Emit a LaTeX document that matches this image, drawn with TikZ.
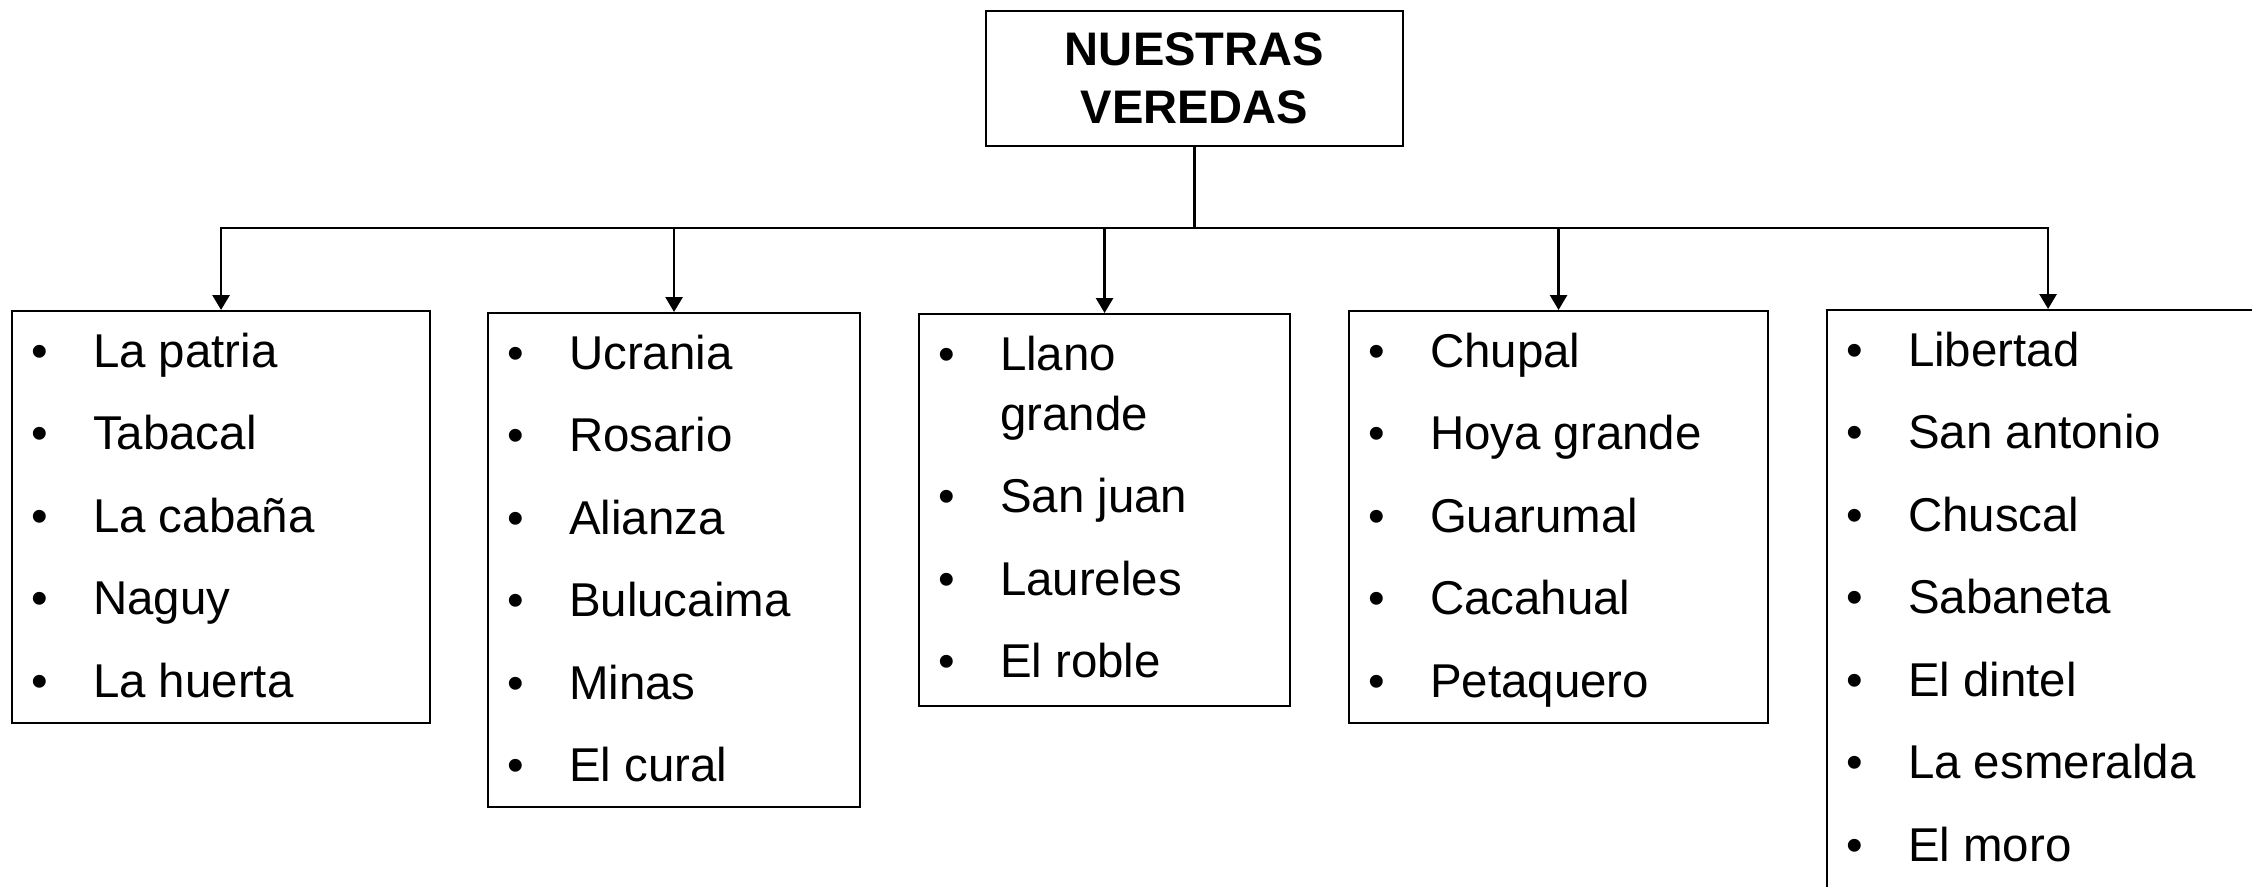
\documentclass[tikz,border=0pt]{standalone}
\usepackage{fontspec}
\setmainfont{Liberation Sans}
\usetikzlibrary{arrows.meta, positioning}

\newcommand{\vitem}[1]{\rule{0pt}{0.4cm}\hspace*{0.19cm}\makebox[0.62cm][l]{•}#1\par\vspace{0.225cm}}
\newcommand{\vlist}[3]{\parbox[c][#2][t]{#1}{\fontsize{13.5pt}{0.6cm}\selectfont\vspace*{0.16cm}#3}}

\begin{document}
\begin{tikzpicture}[
    titlebox/.style={draw, line width=0.6pt, minimum width=4.17cm, minimum height=1.35cm,
        align=center, font=\fontsize{13.4pt}{0.58cm}\selectfont\bfseries},
    listbox/.style={draw, line width=0.6pt, inner sep=0pt, anchor=north west},
    link/.style={line width=0.8pt, -{Triangle[width=0.17cm,length=0.15cm]}}
]
\useasboundingbox (0,0) rectangle (22.52,-8.86);
\clip (0,0) rectangle (22.52,-8.86);

\node[titlebox] (top) at (11.945,-0.785) {NUESTRAS\\VEREDAS};

% veredas por sector
\node[listbox] (b1) at (0.11,-3.10) {\vlist{4.18cm}{4.12cm}{%
    \vitem{La patria}\vitem{Tabacal}\vitem{La cabaña}\vitem{Naguy}\vitem{La huerta}}};
\node[listbox] (b2) at (4.87,-3.12) {\vlist{3.72cm}{4.94cm}{%
    \vitem{Ucrania}\vitem{Rosario}\vitem{Alianza}\vitem{Bulucaima}\vitem{Minas}\vitem{El cural}}};
\node[listbox] (b3) at (9.18,-3.13) {\vlist{3.71cm}{3.92cm}{%
    \vitem{Llano\newline\hspace*{0.81cm}grande}\vitem{San juan}\vitem{Laureles}\vitem{El roble}}};
\node[listbox] (b4) at (13.48,-3.10) {\vlist{4.19cm}{4.12cm}{%
    \vitem{Chupal}\vitem{Hoya grande}\vitem{Guarumal}\vitem{Cacahual}\vitem{Petaquero}}};
\node[listbox] (b5) at (18.26,-3.09) {\vlist{4.42cm}{6.0cm}{%
    \vitem{Libertad}\vitem{San antonio}\vitem{Chuscal}\vitem{Sabaneta}\vitem{El dintel}\vitem{La esmeralda}\vitem{El moro}}};

% conectores
\coordinate (bus) at (11.95,-2.28);
\draw[line width=0.9pt] (top.south) -- (top.south |- bus);
\foreach \b in {b1,b2,b3,b4,b5}
    \draw[link] (top.south |- bus) -| (\b.north);
\end{tikzpicture}
\end{document}
